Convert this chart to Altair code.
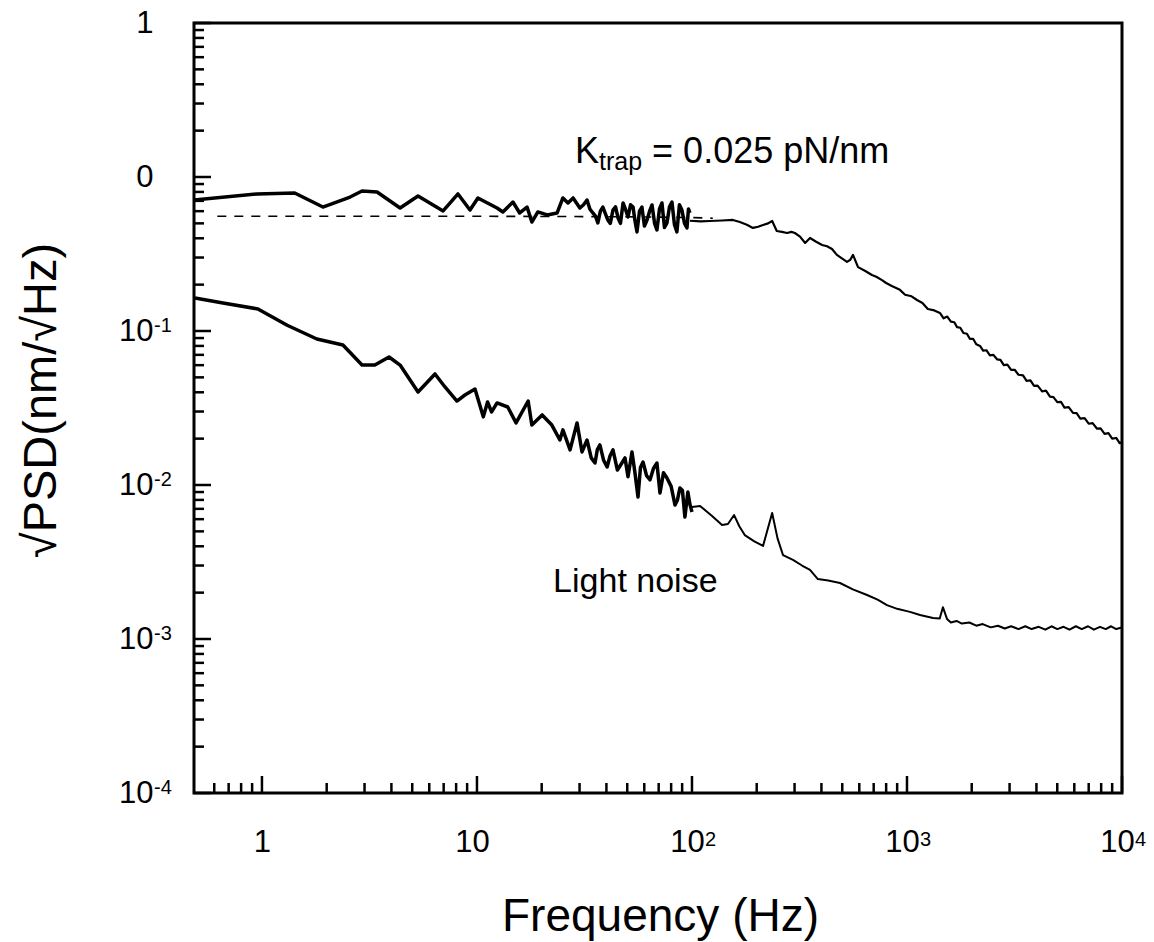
import altair as alt
import pandas as pd

# ---- data (frequency in Hz, sqrt(PSD) in nm/sqrt(Hz)) ----
# trapped bead, low-frequency (bold) part
trap_lo_f = [0.478, 0.948, 1.42, 1.92, 2.57, 2.92, 3.43, 4.39, 5.32, 6.96,
             8.16, 9.28, 10.1, 12.4, 13.2, 14.7, 15.8, 17.1, 18.0, 19.2,
             21.2, 23.6, 25.1, 26.5, 28.0, 30.1, 31.3, 32.5, 33.5, 34.6, 35.5,
             36.5, 37.5, 38.5, 39.5, 40.6, 41.7, 42.9, 44.1, 45.3, 46.5, 47.8,
             49.0, 50.4, 51.8, 53.2, 54.3, 55.5, 57.0, 58.5, 60.1, 61.8, 63.5,
             65.2, 67.0, 68.7, 70.6, 72.5, 74.5, 76.5, 78.6, 80.7, 82.9, 85.1,
             87.4, 89.8, 92.3, 94.8, 96.3, 97.9]
trap_lo_psd = [0.709, 0.776, 0.787, 0.638, 0.741, 0.811, 0.799, 0.629, 0.753, 0.602,
               0.776, 0.610, 0.731, 0.629, 0.593, 0.688, 0.584, 0.638, 0.510, 0.593,
               0.567, 0.584, 0.731, 0.678, 0.731, 0.629, 0.660, 0.709, 0.620, 0.584, 0.560,
               0.503, 0.600, 0.638, 0.580, 0.526, 0.500, 0.610, 0.640, 0.542, 0.500, 0.678,
               0.620, 0.550, 0.660, 0.638, 0.520, 0.440, 0.600, 0.638, 0.480, 0.526, 0.600,
               0.658, 0.500, 0.453, 0.620, 0.678, 0.470, 0.503, 0.640, 0.688, 0.490, 0.440,
               0.660, 0.610, 0.500, 0.467, 0.620, 0.584]
# trapped bead, high-frequency (thin) part
trap_hi_f = [97.9, 110, 121, 138, 155, 167, 180, 192, 203, 214, 226, 236, 248, 262,
             277, 290, 301, 318, 336, 354, 378, 403, 425, 448, 472, 500, 526, 545,
             561, 592, 640, 687, 720, 765, 800, 850, 927, 980, 1050, 1113, 1180,
             1250, 1340, 1423, 1480, 1540, 1600, 1660, 1709, 1770, 1830, 1900, 1960,
             2030, 2100, 2186, 2260, 2340, 2430, 2523, 2623, 2720, 2820, 2930, 3050,
             3170, 3300, 3465, 3600, 3750, 3900, 4050, 4250, 4430, 4624, 4800, 5000,
             5200, 5400, 5650, 5916, 6150, 6400, 6700, 7000, 7300, 7656, 7950, 8300,
             8650, 9000, 9400, 9750, 10000]
trap_hi_psd = [0.520, 0.515, 0.518, 0.522, 0.526, 0.510, 0.490, 0.467, 0.475, 0.488,
               0.500, 0.518, 0.446, 0.440, 0.433, 0.440, 0.433, 0.410, 0.373, 0.402,
               0.380, 0.362, 0.355, 0.341, 0.312, 0.295, 0.281, 0.290, 0.312, 0.260,
               0.245, 0.231, 0.225, 0.214, 0.205, 0.196, 0.185, 0.172, 0.168, 0.159,
               0.152, 0.139, 0.136, 0.131, 0.121, 0.124, 0.115, 0.114, 0.106, 0.105,
               0.097, 0.096, 0.089, 0.089, 0.082, 0.0800, 0.0745, 0.0750, 0.0695,
               0.0700, 0.0655, 0.0650, 0.0600, 0.0605, 0.0560, 0.0560, 0.0520, 0.0515,
               0.0475, 0.0478, 0.0440, 0.0442, 0.0405, 0.0410, 0.0375, 0.0372, 0.0345,
               0.0347, 0.0318, 0.0320, 0.0294, 0.0293, 0.0270, 0.0272, 0.0250, 0.0252,
               0.0232, 0.0233, 0.0215, 0.0217, 0.0200, 0.0202, 0.0187, 0.0190]
# Lorentzian fit (dashed)
fit_f = [0.62, 10, 50, 100, 125]
fit_psd = [0.556, 0.556, 0.552, 0.545, 0.540]
# light noise, low-frequency (bold) part
noise_lo_f = [0.488, 0.659, 0.958, 1.31, 1.80, 2.38, 2.92, 3.35, 3.90, 4.39,
              5.32, 6.38, 7.10, 8.07, 8.79, 9.79, 10.7, 11.2, 11.7, 12.4,
              13.9, 15.2, 17.3, 18.0, 20.1, 22.3, 24.3, 25.1, 27.1, 29.2,
              30.8, 32.5, 34.0, 35.4, 36.3, 37.3, 38.8, 40.3, 41.6, 42.9, 45.0,
              47.2, 48.8, 50.4, 52.6, 54.3, 56.1, 57.6, 59.2, 61.5, 63.8, 66.2,
              68.7, 71.0, 73.7, 76.5, 80.0, 83.4, 85.6, 87.9, 90.3, 92.7, 95.7,
              97.8, 100]
noise_lo_psd = [0.164, 0.152, 0.139, 0.109, 0.0887, 0.0811, 0.0601, 0.0601, 0.0678, 0.0601,
                0.0402, 0.0526, 0.0433, 0.0351, 0.0384, 0.0420, 0.0277, 0.0346, 0.0298, 0.0341,
                0.0321, 0.0253, 0.0351, 0.0245, 0.0285, 0.0245, 0.0196, 0.0228, 0.0169, 0.0253,
                0.0164, 0.0196, 0.0150, 0.0139, 0.0170, 0.0182, 0.0145, 0.0131, 0.0155, 0.0169,
                0.0125, 0.0139, 0.0150, 0.0113, 0.0164, 0.0120, 0.00836, 0.0130, 0.0141, 0.0115,
                0.0108, 0.0128, 0.0139, 0.00887, 0.0120, 0.0111, 0.0098, 0.00741, 0.0080,
                0.00957, 0.0092, 0.00620, 0.00901, 0.0075, 0.00668]
# light noise, high-frequency (thin) part
noise_hi_f = [100, 109, 124, 138, 147, 157, 166, 176, 195, 214, 236, 250, 265, 295,
              325, 354, 385, 430, 488, 560, 652, 730, 807, 900, 1032, 1150, 1322,
              1420, 1469, 1535, 1600, 1700, 1800, 1950, 2100, 2250, 2450, 2650,
              2850, 3050, 3300, 3550, 3800, 4100, 4400, 4700, 5000, 5350, 5700,
              6100, 6500, 6950, 7400, 7900, 8400, 8900, 9400, 10000]
noise_hi_psd = [0.00720, 0.00731, 0.00630, 0.00550, 0.00558, 0.00638, 0.00540, 0.00473,
                0.00430, 0.00402, 0.00658, 0.00450, 0.00351, 0.00326, 0.00300, 0.00281,
                0.00245, 0.00240, 0.00231, 0.00210, 0.00193, 0.00180, 0.00166, 0.00157,
                0.00150, 0.00143, 0.00137, 0.00136, 0.00161, 0.00135, 0.00128, 0.00131,
                0.00126, 0.00128, 0.00122, 0.00125, 0.00119, 0.00122, 0.00117, 0.00121,
                0.00116, 0.00121, 0.00116, 0.00120, 0.00115, 0.00121, 0.00116, 0.00120,
                0.00115, 0.00121, 0.00116, 0.00121, 0.00115, 0.00120, 0.00116, 0.00121,
                0.00116, 0.00119]

# axis ticks and labels
x_major = [1, 10, 100, 1000, 10000]
y_major = [1e-4, 1e-3, 1e-2, 1e-1, 1, 10]
x_minor = [0.6, 0.7, 0.8, 0.9] + [m * 10 ** k for k in range(0, 4) for m in range(2, 10)]
y_minor = [m * 10.0 ** k for k in range(-4, 1) for m in range(2, 10)]
x_exp_vals = [100, 1000, 10000]
x_exp_text = ["2", "3", "4"]
y_exp_vals = [1e-4, 1e-3, 1e-2, 1e-1]
y_exp_text = ["-4", "-3", "-2", "-1"]

# annotations
ann_k_f, ann_k_psd = [28.6], [1.233]
ann_n_f, ann_n_psd = [22.6], [0.00202]

W, H = 928, 770
FONT = "Liberation Sans"

xs = alt.Scale(type="log", domain=[0.483, 10000], nice=False)
ys = alt.Scale(type="log", domain=[1e-4, 10], nice=False)

xaxis = alt.Axis(values=x_major, labelExpr="datum.value < 5 ? '1' : '10'",
                 ticks=False, tickSize=0, domain=False, grid=False,
                 labelFont=FONT, labelFontSize=31, labelColor="black",
                 labelBaseline="alphabetic", labelPadding=58, labelFlush=False,
                 labelOverlap=False,
                 labelOffset={"condition": {"test": "datum.value < 5", "value": 0}, "value": -5},
                 title="Frequency (Hz)", titleFont=FONT, titleFontSize=46,
                 titleFontWeight="normal", titleColor="black",
                 titleX=466, titleY=137, titleBaseline="alphabetic", titleAlign="center")
yaxis = alt.Axis(values=y_major,
                 labelExpr="datum.value > 5 ? '1' : (datum.value > 0.5 ? '0' : '10')",
                 ticks=False, tickSize=0, domain=False, grid=False,
                 labelFont=FONT, labelFontSize=31, labelColor="black",
                 labelAlign="right", labelBaseline="middle", labelPadding=41,
                 labelFlush=False, labelOverlap=False,
                 title="√PSD(nm/√Hz)", titleFont=FONT, titleFontSize=47,
                 titleFontWeight="normal", titleColor="black", titleAngle=270,
                 titleX=-139, titleY=377, titleBaseline="alphabetic", titleAlign="center")


def X(field="f"):
    return alt.X(field, type="quantitative", scale=xs, axis=xaxis)


def Y(field="p"):
    return alt.Y(field, type="quantitative", scale=ys, axis=yaxis)


def df(f, p):
    return pd.DataFrame({"f": f, "p": p})


trap_lo = alt.Chart(df(trap_lo_f, trap_lo_psd)).mark_line(
    color="black", strokeWidth=3.5, strokeJoin="round", clip=True).encode(x=X(), y=Y())
trap_hi = alt.Chart(df(trap_hi_f, trap_hi_psd)).mark_line(
    color="black", strokeWidth=2.2, strokeJoin="round", clip=True).encode(x=X(), y=Y())
fit = alt.Chart(df(fit_f, fit_psd)).mark_line(
    color="black", strokeWidth=1.6, strokeDash=[9, 8], clip=True).encode(x=X(), y=Y())
noise_lo = alt.Chart(df(noise_lo_f, noise_lo_psd)).mark_line(
    color="black", strokeWidth=3.5, strokeJoin="round", clip=True).encode(x=X(), y=Y())
noise_hi = alt.Chart(df(noise_hi_f, noise_hi_psd)).mark_line(
    color="black", strokeWidth=2, strokeJoin="round", clip=True).encode(x=X(), y=Y())

xt_major = alt.Chart(pd.DataFrame({"f": x_major})).mark_rule(
    color="black", strokeWidth=2.5).encode(x=X(), y=alt.value(H), y2=alt.value(H - 17))
xt_minor = alt.Chart(pd.DataFrame({"f": x_minor})).mark_rule(
    color="black", strokeWidth=2.5).encode(x=X(), y=alt.value(H), y2=alt.value(H - 10))
yt_major = alt.Chart(pd.DataFrame({"p": y_major})).mark_rule(
    color="black", strokeWidth=2.5).encode(y=Y(), x=alt.value(0), x2=alt.value(17))
yt_minor = alt.Chart(pd.DataFrame({"p": y_minor})).mark_rule(
    color="black", strokeWidth=2.5).encode(y=Y(), x=alt.value(0), x2=alt.value(10))

x_exp = alt.Chart(pd.DataFrame({"f": x_exp_vals, "t": x_exp_text})).mark_text(
    font=FONT, fontSize=20, color="black", align="left", baseline="alphabetic", dx=13
).encode(x=X(), y=alt.value(H + 53), text="t:N")
y_exp = alt.Chart(pd.DataFrame({"p": y_exp_vals, "t": y_exp_text})).mark_text(
    font=FONT, fontSize=20, color="black", align="left", baseline="middle", dy=-5
).encode(y=Y(), x=alt.value(-40), text="t:N")

k_df = df(ann_k_f, ann_k_psd)
k_main = alt.Chart(k_df).mark_text(font=FONT, fontSize=36, color="black", align="left",
                                   baseline="alphabetic").encode(x=X(), y=Y(), text=alt.value("K"))
k_sub = alt.Chart(k_df).mark_text(font=FONT, fontSize=25, color="black", align="left",
                                  baseline="alphabetic", dx=24, dy=7).encode(x=X(), y=Y(), text=alt.value("trap"))
k_rest = alt.Chart(k_df).mark_text(font=FONT, fontSize=36, color="black", align="left",
                                   baseline="alphabetic", dx=77).encode(x=X(), y=Y(), text=alt.value("= 0.025 pN/nm"))
noise_lbl = alt.Chart(df(ann_n_f, ann_n_psd)).mark_text(
    font=FONT, fontSize=34, color="black", align="left", baseline="alphabetic"
).encode(x=X(), y=Y(), text=alt.value("Light noise"))

chart = alt.layer(
    fit, trap_lo, trap_hi, noise_lo, noise_hi,
    xt_major, xt_minor, yt_major, yt_minor,
    x_exp, y_exp, k_main, k_sub, k_rest, noise_lbl
).properties(
    width=W, height=H,
    autosize=alt.AutoSizeParams(type="none"),
    padding={"left": 194, "top": 23, "right": 32, "bottom": 149},
    background="white",
).configure_view(stroke="black", strokeWidth=3)

chart.save("out.html", embed_options={"renderer": "svg", "actions": False})
